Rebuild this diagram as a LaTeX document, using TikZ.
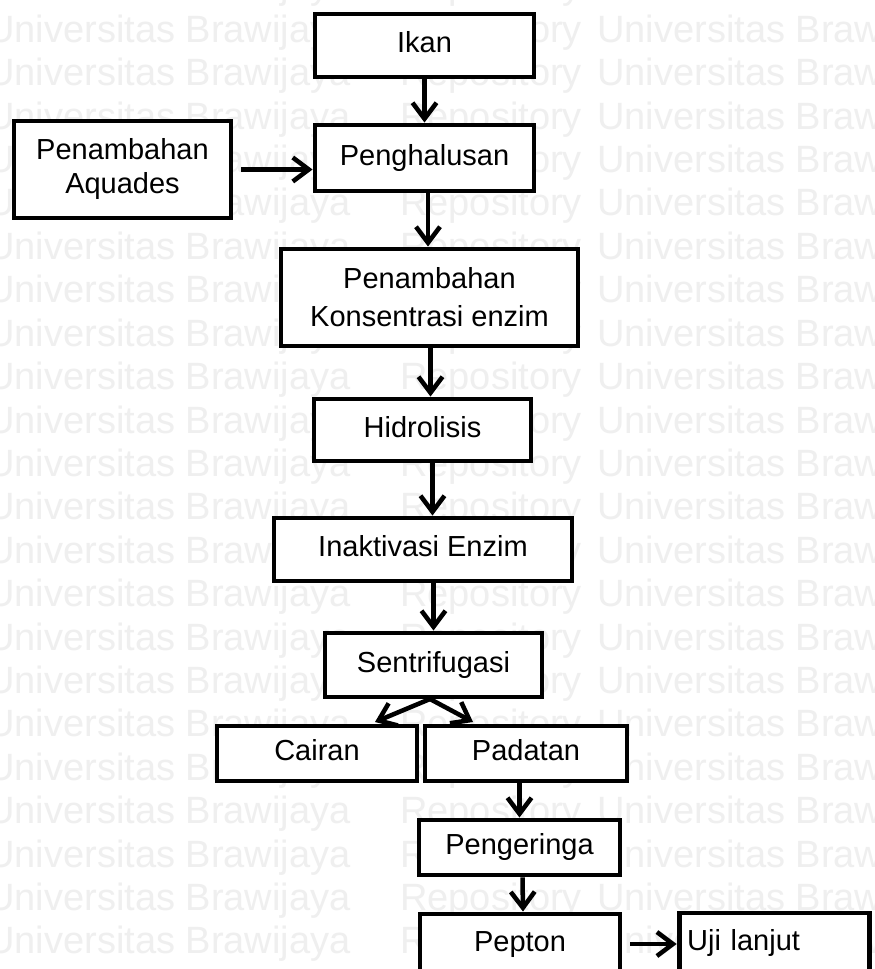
\documentclass[tikz,border=0pt]{standalone}
\usepackage{fontspec}
\setmainfont{Liberation Sans}
\usetikzlibrary{arrows.meta,calc}
\definecolor{wm}{RGB}{239,239,239}
\begin{document}
\begin{tikzpicture}[x=0.75pt,y=-0.75pt,
  box/.style={draw, line width=3.7pt, fill=white, align=center, inner sep=0pt,
    font=\fontsize{21.75}{25.5}\selectfont},
  one/.style={text height=15.5pt, text depth=4.5pt},
  arr/.style={line width=3.4pt, -{Straight Barb[length=12pt,width=18pt]}},
  wmtext/.style={text=wm, font=\fontsize{28.5}{30}\selectfont, anchor=base west, inner sep=0pt}]
\useasboundingbox (0,0) rectangle (874,969);
\clip (0,0) rectangle (874,969);
\fill[white] (0,0) rectangle (874,969);
\foreach \k in {0,...,23} {
  \node[wmtext] (wa\k) at (-13, 43.4*\k-1) {Universitas Brawijaya};
  \node[wmtext] (wb\k) at (400, 43.4*\k-1) {Repository};
  \node[wmtext] (wc\k) at (597, 43.4*\k-1) {Universitas Brawijaya};
}
% boxes
\node[box,one,minimum width=164.25pt,minimum height=47.25pt] (ikan) at (424.5,45.5) {Ikan};
\node[box,minimum width=162.75pt,minimum height=72.75pt] (aquades) at (122.5,169.5) {Penambahan\\Aquades};
\node[box,one,minimum width=164.25pt,minimum height=49.5pt] (penghalusan) at (424.5,158) {Penghalusan};
\node[box,minimum width=222.75pt,minimum height=72.75pt] (konsentrasi) at (429.5,297.5) {Penambahan\\[3pt]Konsentrasi enzim};
\node[box,one,minimum width=162.75pt,minimum height=46.5pt] (hidrolisis) at (422.5,430) {Hidrolisis};
\node[box,one,minimum width=223.5pt,minimum height=47.25pt] (inaktivasi) at (423,549.5) {Inaktivasi Enzim};
\node[box,one,minimum width=162.75pt,minimum height=48pt] (sentrifugasi) at (433.5,665) {Sentrifugasi};
\node[box,one,minimum width=150pt,minimum height=41.25pt] (cairan) at (317,753.5) {Cairan};
\node[box,one,minimum width=151.5pt,minimum height=41.25pt] (padatan) at (526,753.5) {Padatan};
\node[box,one,minimum width=150.75pt,minimum height=41.25pt] (pengeringa) at (519.5,847.5) {Pengeringa};
\node[box,one,minimum width=150pt,minimum height=45pt] (pepton) at (520,944) {Pepton};
\node[box,one,text width=131pt,inner xsep=6pt,align=left,minimum height=45.75pt] (uji) at (774.5,943.5) {Uji lanjut};
% connectors
\coordinate (split) at (430,699);
\coordinate (ca) at (375,722);
\coordinate (pa) at (473,722);
\draw[arr] (ikan) -- (penghalusan);
\draw[arr,shorten <=6pt] (aquades.east) -- (aquades.east -| penghalusan.west);
\draw[arr] ($(penghalusan.south)+(3.5,0)$) -- ($(konsentrasi.north)+(-1.5,0)$);
\draw[arr] ($(konsentrasi.south)+(1,0)$) -- ($(konsentrasi.south |- hidrolisis.north)+(1,0)$);
\draw[arr] ($(hidrolisis.south)+(10,0)$) -- ($(hidrolisis.south |- inaktivasi.north)+(10,0)$);
\draw[arr] (inaktivasi.south -| sentrifugasi.north) -- (sentrifugasi.north);
\draw[arr] (split) -- (ca);
\draw[arr] (split) -- (pa);
\draw[arr] (padatan.south -| pengeringa.north) -- (pengeringa.north);
\draw[arr] ($(pengeringa.south)+(3,0)$) -- ($(pepton.north)+(3,0)$);
\draw[arr,shorten <=6pt] (pepton.east) -- (pepton.east -| uji.west);
\end{tikzpicture}
\end{document}
